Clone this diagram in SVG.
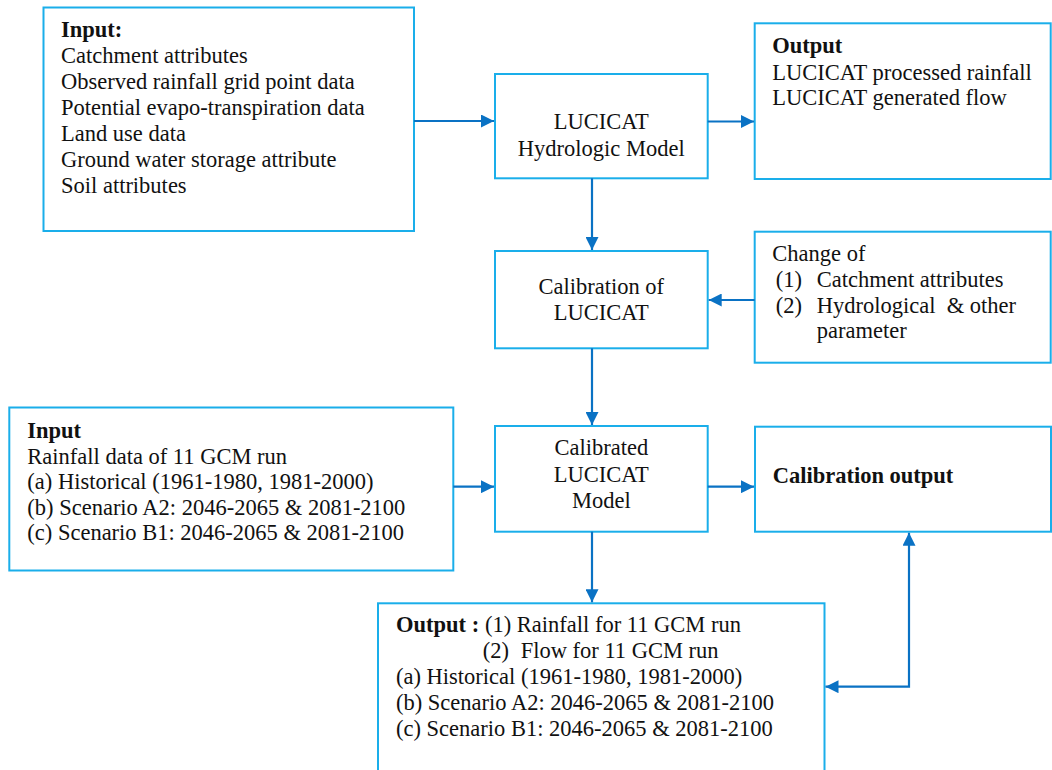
<svg xmlns="http://www.w3.org/2000/svg" width="1052" height="770" viewBox="0 0 1052 770">
<style>
.box{fill:#fff;stroke:#1AAEEA;stroke-width:2}
.t{font-family:"Liberation Serif","Times New Roman",serif;font-size:22.5px;fill:#111}
.b{font-weight:bold}
.c{text-anchor:middle}
.conn{fill:none;stroke:#0A72C4;stroke-width:2.2}
</style>
<defs>
<marker id="ah" markerUnits="userSpaceOnUse" markerWidth="14" markerHeight="13" refX="13" refY="6.5" orient="auto-start-reverse" viewBox="0 0 14 13">
<path d="M0,0 L13,6.5 L0,13 z" fill="#0A72C4"/>
</marker>
</defs>
<rect width="1052" height="770" fill="#fff"/>
<g id="input1">
<rect class="box" x="43.5" y="7.5" width="370.5" height="223.5"/>
<text class="t b" x="61" y="37.3">Input:</text>
<text class="t" x="61" y="63.3">Catchment attributes</text>
<text class="t" x="61" y="89.3">Observed rainfall grid point data</text>
<text class="t" x="61" y="115.2">Potential evapo-transpiration data</text>
<text class="t" x="61" y="141">Land use data</text>
<text class="t" x="61" y="166.8">Ground water storage attribute</text>
<text class="t" x="61" y="192.7">Soil attributes</text>
</g>
<g id="hydro">
<rect class="box" x="495" y="74" width="212.7" height="104.3"/>
<text class="t c" x="601.3" y="129.3">LUCICAT</text>
<text class="t c" x="601.3" y="155.7">Hydrologic Model</text>
</g>
<g id="output1">
<rect class="box" x="754.7" y="23.3" width="296" height="155.7"/>
<text class="t b" x="772.3" y="53.3">Output</text>
<text class="t" x="772.3" y="80">LUCICAT processed rainfall</text>
<text class="t" x="772.3" y="105">LUCICAT generated flow</text>
</g>
<g id="calib">
<rect class="box" x="495" y="251" width="212.7" height="97.3"/>
<text class="t c" x="601.3" y="294">Calibration of</text>
<text class="t c" x="601.3" y="320">LUCICAT</text>
</g>
<g id="change">
<rect class="box" x="754.7" y="231.7" width="296" height="131"/>
<text class="t" x="772.3" y="260.7">Change of</text>
<text class="t" x="775.7" y="286.7">(1)</text>
<text class="t" x="816.7" y="286.7">Catchment attributes</text>
<text class="t" x="775.7" y="312.7">(2)</text>
<text class="t" x="816.7" y="312.7" xml:space="preserve">Hydrological  &amp; other</text>
<text class="t" x="816.7" y="338.3">parameter</text>
</g>
<g id="input2">
<rect class="box" x="9.3" y="407.5" width="444" height="163"/>
<text class="t b" x="27.3" y="438.3">Input</text>
<text class="t" x="27.3" y="463.5">Rainfall data of 11 GCM run</text>
<text class="t" x="27.3" y="489">(a) Historical (1961-1980, 1981-2000)</text>
<text class="t" x="27.3" y="514.5">(b) Scenario A2: 2046-2065 &amp; 2081-2100</text>
<text class="t" x="27.3" y="540">(c) Scenario B1: 2046-2065 &amp; 2081-2100</text>
</g>
<g id="calibrated">
<rect class="box" x="495" y="426" width="212.7" height="105.7"/>
<text class="t c" x="601.3" y="455">Calibrated</text>
<text class="t c" x="601.3" y="481.5">LUCICAT</text>
<text class="t c" x="601.3" y="508">Model</text>
</g>
<g id="calout">
<rect class="box" x="755" y="426.7" width="296" height="105"/>
<text class="t b" x="772.7" y="482.7">Calibration output</text>
</g>
<g id="output2">
<rect class="box" x="378" y="603.3" width="446.5" height="180"/>
<text class="t b" x="396" y="631.7">Output :</text>
<text class="t" x="485" y="631.7">(1) Rainfall for 11 GCM run</text>
<text class="t" x="482.7" y="658.3">(2)</text>
<text class="t" x="520.7" y="658.3">Flow for 11 GCM run</text>
<text class="t" x="396" y="684.3">(a) Historical (1961-1980, 1981-2000)</text>
<text class="t" x="396" y="710">(b) Scenario A2: 2046-2065 &amp; 2081-2100</text>
<text class="t" x="396" y="735.7">(c) Scenario B1: 2046-2065 &amp; 2081-2100</text>
</g>
<g id="connectors">
<path class="conn" d="M414,121 H494" marker-end="url(#ah)"/>
<path class="conn" d="M707.7,121.5 H754" marker-end="url(#ah)"/>
<path class="conn" d="M592,178.3 V250" marker-end="url(#ah)"/>
<path class="conn" d="M754.7,300 H708.7" marker-end="url(#ah)"/>
<path class="conn" d="M592,348.3 V425" marker-end="url(#ah)"/>
<path class="conn" d="M453.3,486.7 H494" marker-end="url(#ah)"/>
<path class="conn" d="M707.7,486.7 H754" marker-end="url(#ah)"/>
<path class="conn" d="M592,531.7 V602.3" marker-end="url(#ah)"/>
<path class="conn" d="M909,532.7 V686.7 H825.5" marker-start="url(#ah)" marker-end="url(#ah)"/>
</g>
</svg>
